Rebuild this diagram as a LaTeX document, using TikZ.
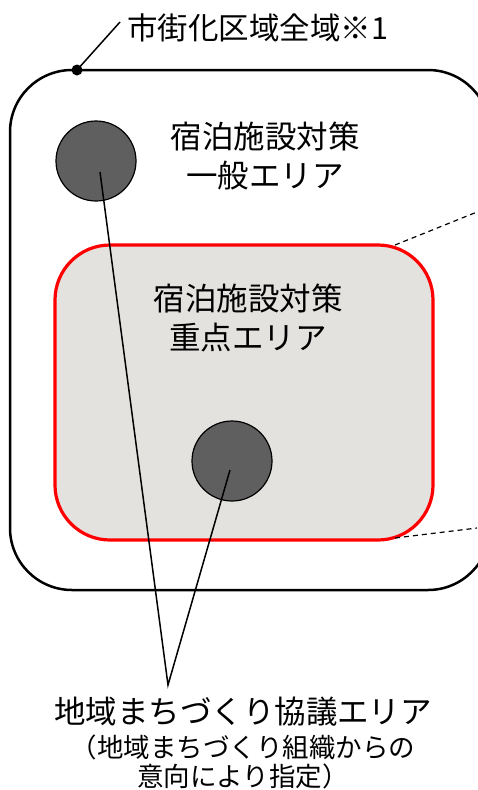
\documentclass[tikz,border=0pt]{standalone}
\usepackage{fontspec}
\setmainfont{Noto Sans CJK JP}
\definecolor{zonefill}{HTML}{E4E2DF}
\definecolor{dotfill}{HTML}{5F5F5F}
\begin{document}
\begin{tikzpicture}[x=1pt,y=-1pt,
  big/.style={font=\fontsize{31.5}{36}\selectfont, inner sep=0pt},
  toplab/.style={font=\fontsize{30.5}{36}\selectfont, inner sep=0pt},
  sub/.style={font=\fontsize{26.5}{30}\selectfont, inner sep=0pt},
  spot/.style={circle, draw=black, line width=1.2pt, fill=dotfill, minimum size=80pt, inner sep=0pt},
  lead/.style={line width=1.5pt},
  dashline/.style={line width=1.2pt, dash pattern=on 5pt off 4pt}]
\useasboundingbox (0,0) rectangle (477,790);
% outer area
\draw[line width=2.5pt, rounded corners=62pt] (10,70) rectangle (490,590);
% inner red area
\draw[red, line width=3.2pt, fill=zonefill, rounded corners=55pt] (55,245) rectangle (433,540);
% dashed lines
\coordinate (d1a) at (395,245); \coordinate (d1b) at (477,212);
\coordinate (d2a) at (395,538); \coordinate (d2b) at (477,528);
\draw[dashline] (d1a) -- (d1b);
\draw[dashline] (d2a) -- (d2b);
% top label
\node[circle, fill=black, minimum size=11pt, inner sep=0pt] (dot) at (77,70) {};
\coordinate (lab) at (120,22);
\draw[line width=1.5pt] (dot.center) -- (lab);
\node[toplab, anchor=west] (title) at (127,28) {市街化区域全域※1};
% area labels
\node[big] (g1) at (265,136) {宿泊施設対策};
\node[big] (g2) at (265,176) {一般エリア};
\node[big] (j1) at (248,298) {宿泊施設対策};
\node[big] (j2) at (248,338) {重点エリア};
% circles
\node[spot] (c1) at (96,161) {};
\node[spot] (c2) at (232,461) {};
\coordinate (s1) at (100,172);
\coordinate (s2) at (230,470);
\coordinate (meet) at (168,685);
\draw[lead] (s1) -- (meet) -- (s2);
% bottom text
\node[big] (b1) at (243,712) {地域まちづくり協議エリア};
\node[sub] (b2) at (243,747) {（地域まちづくり組織からの};
\node[sub] (b3) at (243,776) {意向により指定）};
\end{tikzpicture}
\end{document}
